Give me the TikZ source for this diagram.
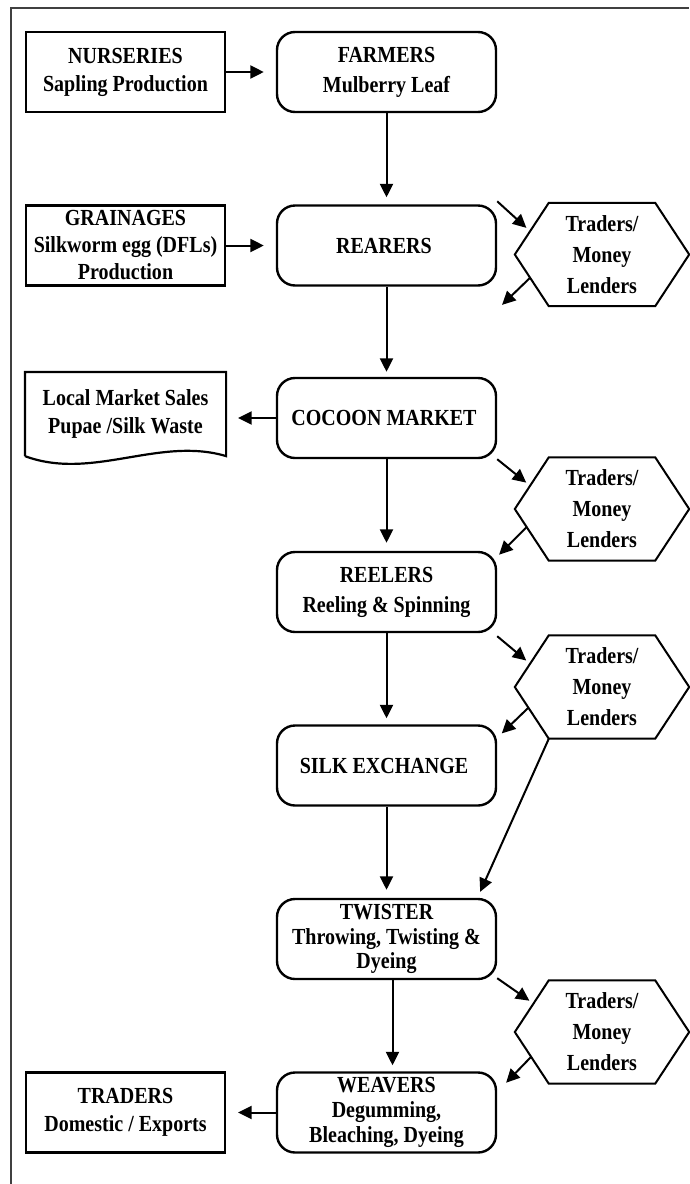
\documentclass[tikz,border=0pt]{standalone}
\usepackage{fontspec}
\setmainfont{Liberation Serif}[FakeStretch=0.87]
\usepackage{tikz}
\usetikzlibrary{arrows.meta}
\usetikzlibrary{positioning,calc}
\newcommand{\boxfont}[1]{\fontsize{23}{#1}\selectfont\bfseries}
\tikzset{
    state/.style={
           rectangle,
           rounded corners=18pt,
           draw=black, line width=2.4pt,
           minimum width=219pt,
           minimum height=80pt,
           inner sep=2pt,
           align=center,
           font=\boxfont{30pt},
           },
    state2/.style={
           rectangle,
           draw=black, line width=2.2pt,
           minimum width=199pt,
           minimum height=80pt,
           inner sep=2pt,
           align=center,
           font=\boxfont{28pt},
           },
    lender/.style={
           rectangle,
           minimum width=174pt,
           minimum height=103pt,
           inner sep=0pt,
           align=center,
           font=\boxfont{31pt},
           },
    hexline/.style={draw=black, line width=2pt, line join=miter},
    arr/.style={line width=2pt, -{Triangle[length=13.5pt,width=13pt]}},
}

\begin{document}
\begin{tikzpicture}[x=1pt,y=1pt]

 \useasboundingbox (0,0) rectangle (689,-1184);

 % outer frame (runs off the page on the right and bottom)
 \draw[line width=1.2pt, black!75] (11,-1184) -- (11,-8) -- (689,-8);

 % FARMERS
 \node[state] (FARMERS) at (386.5,-72)
 {%
 FARMERS\\Mulberry Leaf
 };

 \node[state2,
 left of=FARMERS,
 node distance=261pt] (NURSERIES)
 {%
 NURSERIES\\Sapling Production
 };

 % REARERS
 \node[state,
 below of=FARMERS,
 node distance=173.5pt] (REARERS)
 {%
 REARERS
 };

 \node[state2,
 left of=REARERS,
 node distance=261pt,
 font=\boxfont{27pt}] (GRAINAGES)
 {%
 GRAINAGES\\Silkworm egg (DFLs)\\Production
 };

 \node[lender,
 right of=REARERS,
 node distance=215.5pt,
 yshift=-9pt] (LENDERA)
 {%
 Traders/\\Money\\Lenders
 };

 % COCOON MARKET
 \node[state,
 below of=REARERS,
 node distance=172.5pt] (COCOON)
 {%
 COCOON MARKET
 };

 \node[state2, draw=none,
 left of=COCOON,
 node distance=261pt,
 yshift=4pt,
 minimum height=82pt] (LOCAL)
 {%
 Local Market Sales\\Pupae /Silk Waste
 };

 \node[lender,
 right of=COCOON,
 node distance=215.5pt,
 yshift=-91pt] (LENDERB)
 {%
 Traders/\\Money\\Lenders
 };

 % REELERS
 \node[state,
 below of=COCOON,
 node distance=174pt] (REELERS)
 {%
 REELERS\\Reeling \& Spinning
 };

 \node[lender,
 right of=REELERS,
 node distance=215.5pt,
 yshift=-95pt] (LENDERC)
 {%
 Traders/\\Money\\Lenders
 };

 % SILK EXCHANGE
 \node[state,
 below of=REELERS,
 node distance=173.5pt] (SILKEX)
 {%
 SILK EXCHANGE
 };

 % TWISTER
 \node[state,
 below of=SILKEX,
 node distance=173.5pt,
 font=\boxfont{24.5pt}] (TWISTER)
 {%
 TWISTER\\Throwing, Twisting \&\\Dyeing
 };

 \node[lender,
 right of=TWISTER,
 node distance=215.5pt,
 yshift=-93pt] (LENDERD)
 {%
 Traders/\\Money\\Lenders
 };

 % WEAVERS
 \node[state,
 below of=TWISTER,
 node distance=173.5pt,
 font=\boxfont{25pt}] (WEAVERS)
 {%
 WEAVERS\\Degumming,\\Bleaching, Dyeing
 };

 \node[state2,
 left of=WEAVERS,
 node distance=261pt] (TRADERS)
 {%
 TRADERS\\Domestic / Exports
 };

 % hexagons round the lender nodes
 \foreach \h in {LENDERA,LENDERB,LENDERC,LENDERD}
  \draw[hexline] (\h.west) -- ([xshift=34pt]\h.north west)
   -- ([xshift=-34pt]\h.north east) -- (\h.east)
   -- ([xshift=-34pt]\h.south east) -- ([xshift=34pt]\h.south west) -- cycle;

 % document shape with wavy bottom
 \draw[line width=2.2pt, line join=miter]
  (LOCAL.south west) -- (LOCAL.north west) -- (LOCAL.north east) -- (LOCAL.south east)
  .. controls ([xshift=-67pt,yshift=20pt]LOCAL.south east)
  and ([xshift=67pt,yshift=-25pt]LOCAL.south west) .. (LOCAL.south west);

 % main chain
 \draw[arr, shorten >=12pt] (NURSERIES) -- (FARMERS);
 \draw[arr, shorten >=12pt] (GRAINAGES) -- (REARERS);
 \draw[arr, shorten >=7pt] (FARMERS) -- (REARERS);
 \draw[arr, shorten >=5pt] (REARERS) -- (COCOON);
 \draw[arr, shorten >=12pt] (COCOON) -- (LOCAL.east |- COCOON);
 \draw[arr, shorten >=8pt] (COCOON) -- (REELERS);
 \draw[arr, shorten >=6pt] (REELERS) -- (SILKEX);
 \draw[arr, shorten >=8pt] (SILKEX) -- (TWISTER);
 \draw[arr, shorten >=6pt] ([xshift=6pt]TWISTER.south) -- ([xshift=6pt]WEAVERS.north);
 \draw[arr, shorten >=12pt] (WEAVERS) -- (TRADERS);

 % to and from the traders / money lenders
 \draw[arr, shorten >=5pt] ([yshift=3pt]REARERS.north east)
  -- ($(LENDERA.west)!0.45!([xshift=34pt]LENDERA.north west)$);
 \draw[arr] ($(LENDERA.west)!0.45!([xshift=34pt]LENDERA.south west)$) -- ++(-136:39pt);

 \draw[arr, shorten >=5pt] (COCOON.south east)
  -- ($(LENDERB.west)!0.45!([xshift=34pt]LENDERB.north west)$);
 \draw[arr] ($(LENDERB.west)!0.35!([xshift=34pt]LENDERB.south west)$) -- ++(-135:39pt);

 \draw[arr, shorten >=5pt] ([yshift=-3pt]REELERS.south east)
  -- ($(LENDERC.west)!0.45!([xshift=34pt]LENDERC.north west)$);
 \draw[arr] ($(LENDERC.west)!0.4!([xshift=34pt]LENDERC.south west)$) -- ++(-136:37pt);
 \coordinate (TWTOP) at ([xshift=-17pt,yshift=6pt]TWISTER.north east);
 \draw[arr] ([xshift=34pt]LENDERC.south west) -- (TWTOP);

 \draw[arr, shorten >=5pt] ([yshift=2pt]TWISTER.south east)
  -- ($(LENDERD.west)!0.55!([xshift=34pt]LENDERD.north west)$);
 \draw[arr] ($(LENDERD.west)!0.48!([xshift=34pt]LENDERD.south west)$) -- ++(-134:36pt);

\end{tikzpicture}
\end{document}
